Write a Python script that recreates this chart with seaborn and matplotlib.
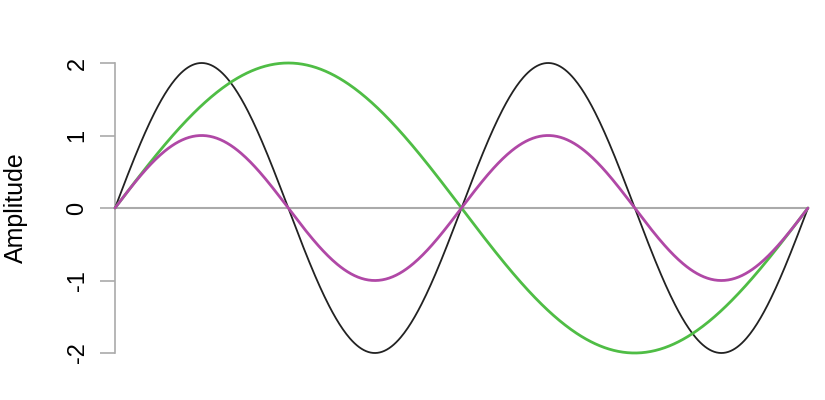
import numpy as np
import pandas as pd
import seaborn as sns
import matplotlib.pyplot as plt

# the three waves: peak height and number of full cycles over the span
wave_names = ["black", "green", "magenta"]
amplitudes = [2, 2, 1]
cycles = [2, 1, 2]
colors = ["#222222", "#4FBD45", "#B048A6"]
widths = [1.3, 2.0, 2.0]
y_ticks = [-2, -1, 0, 1, 2]

x = np.linspace(0, 2 * np.pi, 600)
frames = []
for name, amp, cyc in zip(wave_names, amplitudes, cycles):
    frames.append(pd.DataFrame({"x": x, "Amplitude": amp * np.sin(cyc * x), "wave": name}))
data = pd.concat(frames)

sns.set_style("white")
plt.rcParams["font.family"] = ["Liberation Sans", "DejaVu Sans"]
plt.rcParams["text.color"] = "black"
plt.rcParams["axes.labelcolor"] = "black"
plt.rcParams["ytick.labelcolor"] = "black"

fig = plt.figure(figsize=(8.25, 4), dpi=100)
ax = fig.add_axes([115 / 825, 47 / 400, 693 / 825, 290 / 400])

ax.axhline(0, color="#aaaaaa", lw=1.5, zorder=1)
for name, col, lw in zip(wave_names, colors, widths):
    sns.lineplot(data=data[data.wave == name], x="x", y="Amplitude", color=col,
                 lw=lw, ax=ax, clip_on=False, zorder=3)

ax.set_xlim(0, 2 * np.pi)
ax.set_ylim(-2, 2)
for s in ["top", "right", "bottom"]:
    ax.spines[s].set_visible(False)
ax.spines["left"].set_color("#aaaaaa")
ax.spines["left"].set_linewidth(1.2)
ax.set_xticks([])
ax.set_xlabel("")
ax.set_yticks(y_ticks)
ax.set_yticklabels([str(t) for t in y_ticks], rotation=90, va="center")
ax.tick_params(axis="y", length=11, width=1.2, color="#aaaaaa", labelsize=17,
               labelcolor="black", pad=8, left=True)
ax.set_ylabel("Amplitude", fontsize=18, labelpad=28, color="black")

fig.savefig("out.png", dpi=100)
